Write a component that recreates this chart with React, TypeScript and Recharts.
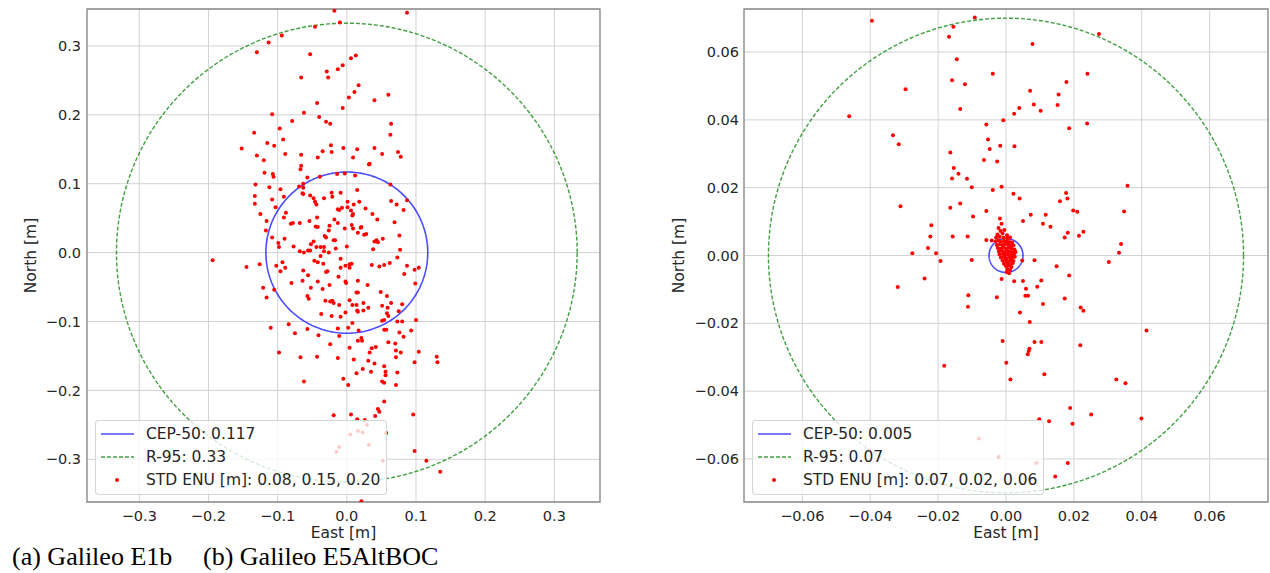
import {
  ScatterChart,
  Scatter,
  XAxis,
  YAxis,
  CartesianGrid,
  ReferenceArea,
  Legend,
} from 'recharts';

type Pt = [number, number];

// --- (a) Galileo E1b ---
const e1bTicks = [-0.3, -0.2, -0.1, 0, 0.1, 0.2, 0.3];
const e1bXDomain: Pt = [-0.3756, 0.366];
const e1bYDomain: Pt = [-0.362, 0.3536];
const e1bCep = 0.117;
const e1bR95 = 0.333;
const e1bLegend = ['CEP-50: 0.117', 'R-95: 0.33', 'STD ENU [m]: 0.08, 0.15, 0.20'];

const e1bUpper: Pt[] = [
  [-0.018, 0.351], [0.087, 0.348], [-0.010, 0.334], [-0.046, 0.328], [-0.094, 0.315], [-0.113, 0.305],
  [-0.130, 0.291], [-0.053, 0.288], [0.013, 0.286], [0.006, 0.282], [-0.006, 0.272], [-0.013, 0.266],
  [-0.029, 0.263], [-0.066, 0.254], [-0.027, 0.254], [0.017, 0.243], [0.011, 0.233], [0.060, 0.229],
  [0.003, 0.225], [0.040, 0.221], [-0.043, 0.217], [-0.006, 0.210], [-0.108, 0.201], [-0.062, 0.203],
  [-0.040, 0.197], [-0.079, 0.191], [-0.030, 0.190], [-0.024, 0.187], [0.064, 0.187], [-0.097, 0.180],
  [-0.134, 0.174], [0.063, 0.171], [-0.092, 0.164], [-0.115, 0.159], [-0.105, 0.155], [-0.023, 0.156],
  [-0.152, 0.151], [-0.005, 0.152], [0.015, 0.150], [0.040, 0.152], [-0.035, 0.147], [-0.022, 0.146],
  [0.074, 0.146], [-0.130, 0.141], [-0.089, 0.143], [-0.066, 0.142], [0.051, 0.143], [-0.042, 0.138],
  [0.009, 0.138], [0.078, 0.139], [-0.120, 0.134], [0.033, 0.129], [0.032, 0.128], [-0.066, 0.126],
  [-0.067, 0.121], [-0.119, 0.116], [-0.107, 0.114], [-0.106, 0.110], [-0.039, 0.110], [-0.057, 0.109],
  [-0.014, 0.114], [-0.003, 0.115], [0.012, 0.112], [-0.132, 0.099], [-0.112, 0.095], [-0.069, 0.096],
  [-0.063, 0.100], [0.063, 0.099], [-0.096, 0.092], [-0.063, 0.094], [0.015, 0.091], [-0.133, 0.082],
  [-0.091, 0.081], [-0.064, 0.086], [-0.063, 0.085], [-0.053, 0.083], [-0.022, 0.087], [-0.009, 0.087],
  [-0.108, 0.077], [-0.048, 0.079], [-0.021, 0.081], [-0.033, 0.079], [-0.046, 0.074], [0.001, 0.074],
  [0.018, 0.074], [0.064, 0.075], [-0.133, 0.071], [-0.044, 0.070], [0.010, 0.070], [0.072, 0.070],
  [0.087, 0.076], [-0.103, 0.066], [-0.007, 0.065], [-0.013, 0.063], [-0.011, 0.062], [0.001, 0.066],
  [0.006, 0.061], [0.027, 0.064], [0.082, 0.062], [-0.125, 0.056], [-0.088, 0.058], [0.009, 0.056],
  [0.008, 0.054], [0.037, 0.056], [-0.091, 0.051], [-0.043, 0.051], [-0.018, 0.048], [0.044, 0.048],
  [-0.116, 0.046], [-0.078, 0.043], [-0.081, 0.042], [-0.068, 0.043], [-0.054, 0.046], [-0.013, 0.043],
  [0.007, 0.040], [0.021, 0.037], [0.020, 0.036], [0.069, 0.044], [-0.045, 0.038], [-0.042, 0.037],
  [-0.025, 0.039], [-0.003, 0.035], [0.009, 0.035], [-0.026, 0.032], [-0.117, 0.032], [0.016, 0.029],
  [-0.108, 0.022], [-0.090, 0.020], [-0.032, 0.024], [-0.030, 0.022], [0.025, 0.026], [0.028, 0.027],
  [0.076, 0.025], [0.043, 0.018], [0.040, 0.016], [0.052, 0.020], [0.045, 0.015], [-0.019, 0.018],
  [-0.017, 0.018], [-0.099, 0.014], [-0.048, 0.016], [-0.052, 0.012], [-0.077, 0.009], [-0.098, 0.008],
  [-0.044, 0.008], [-0.038, 0.008], [-0.033, 0.008], [-0.016, 0.006], [0.000, 0.009], [0.038, 0.005],
  [0.077, 0.004], [-0.056, 0.003], [-0.053, 0.003], [-0.068, 0.002], [-0.062, 0.000], [-0.033, 0.002],
  [-0.026, 0.000],
];

const e1bLower: Pt[] = [
  [-0.145, -0.021], [-0.126, -0.017], [-0.102, -0.019], [-0.093, -0.014], [-0.096, -0.027], [-0.089, -0.022],
  [-0.063, -0.026], [-0.047, -0.012], [-0.042, -0.014], [-0.034, -0.016], [-0.038, -0.005], [-0.028, -0.027],
  [-0.009, -0.009], [-0.009, -0.022], [-0.002, -0.019], [0.004, -0.017], [0.007, -0.016], [0.004, -0.022],
  [0.036, -0.018], [0.047, -0.020], [0.054, -0.018], [0.062, -0.015], [0.073, -0.007], [0.087, -0.019],
  [0.098, -0.025], [0.104, -0.022], [-0.121, -0.051], [-0.116, -0.065], [-0.105, -0.054], [-0.080, -0.044],
  [-0.064, -0.041], [-0.056, -0.033], [-0.042, -0.042], [-0.030, -0.028], [-0.025, -0.047], [-0.012, -0.035],
  [-0.002, -0.042], [-0.001, -0.044], [0.016, -0.041], [0.030, -0.047], [0.083, -0.031], [0.099, -0.045],
  [-0.057, -0.063], [-0.055, -0.067], [-0.052, -0.051], [-0.035, -0.053], [-0.031, -0.070], [-0.024, -0.071],
  [-0.021, -0.070], [-0.019, -0.073], [-0.011, -0.076], [0.004, -0.069], [0.008, -0.076], [0.014, -0.076],
  [0.015, -0.084], [0.024, -0.073], [0.024, -0.084], [0.031, -0.080], [0.014, -0.058], [0.016, -0.058],
  [0.049, -0.057], [0.058, -0.063], [0.051, -0.077], [0.059, -0.080], [0.064, -0.073], [0.080, -0.075],
  [0.075, -0.085], [-0.037, -0.089], [-0.022, -0.092], [-0.009, -0.093], [-0.002, -0.087], [0.008, -0.102],
  [0.016, -0.086], [0.051, -0.099], [0.054, -0.098], [0.058, -0.088], [0.060, -0.092], [0.073, -0.100],
  [0.080, -0.100], [0.100, -0.098], [-0.110, -0.109], [-0.084, -0.104], [-0.075, -0.117], [-0.057, -0.111],
  [-0.041, -0.120], [-0.013, -0.110], [-0.011, -0.121], [0.002, -0.109], [0.017, -0.113], [0.021, -0.124],
  [0.016, -0.128], [0.022, -0.128], [0.054, -0.112], [0.057, -0.112], [0.076, -0.116], [0.082, -0.122],
  [0.093, -0.113], [-0.098, -0.145], [-0.067, -0.152], [-0.043, -0.151], [-0.024, -0.133], [-0.013, -0.153],
  [0.004, -0.138], [0.010, -0.155], [0.031, -0.157], [0.033, -0.145], [0.036, -0.139], [0.042, -0.137],
  [0.060, -0.130], [0.070, -0.132], [0.071, -0.142], [0.078, -0.145], [0.071, -0.152], [0.098, -0.159],
  [0.104, -0.144], [0.130, -0.151], [0.131, -0.159], [-0.062, -0.187], [-0.005, -0.183], [0.002, -0.192],
  [0.014, -0.175], [0.023, -0.169], [0.035, -0.173], [0.040, -0.161], [0.054, -0.165], [0.056, -0.173],
  [0.056, -0.178], [0.051, -0.187], [0.054, -0.189], [0.071, -0.192], [0.073, -0.174], [0.054, -0.216],
  [0.045, -0.227], [0.047, -0.231], [0.041, -0.237], [-0.019, -0.236], [0.006, -0.235], [0.096, -0.235],
  [0.015, -0.242], [0.026, -0.243], [0.029, -0.250], [0.016, -0.259], [0.005, -0.264], [0.023, -0.261],
  [0.057, -0.262], [-0.011, -0.282], [-0.015, -0.289], [0.032, -0.279], [0.052, -0.302], [0.098, -0.288],
  [0.115, -0.302], [0.135, -0.318], [0.021, -0.361], [-0.194, -0.011],
];

// --- (b) Galileo E5AltBOC ---
const e5Ticks = [-0.06, -0.04, -0.02, 0, 0.02, 0.04, 0.06];
const e5XDomain: Pt = [-0.0772, 0.0772];
const e5YDomain: Pt = [-0.0727, 0.0727];
const e5Cep = 0.005;
const e5R95 = 0.07;
const e5Legend = ['CEP-50: 0.005', 'R-95: 0.07', 'STD ENU [m]: 0.07, 0.02, 0.06'];

const e5Spread: Pt[] = [
  [-0.0092, 0.0702], [-0.0155, 0.0675], [-0.0168, 0.0645], [0.0078, 0.0624], [0.0274, 0.0653], [-0.0145, 0.0579],
  [-0.0296, 0.0490], [-0.0159, 0.0517], [-0.0121, 0.0505], [-0.0039, 0.0536], [0.0178, 0.0512], [0.0240, 0.0536],
  [0.0071, 0.0486], [0.0155, 0.0475], [-0.0135, 0.0432], [0.0039, 0.0435], [0.0082, 0.0445], [0.0024, 0.0418],
  [0.0102, 0.0427], [0.0152, 0.0444], [-0.0008, 0.0399], [-0.0058, 0.0386], [0.0186, 0.0375], [0.0239, 0.0389],
  [-0.0053, 0.0342], [-0.0048, 0.0314], [-0.0017, 0.0324], [0.0025, 0.0322], [-0.0164, 0.0304], [-0.0065, 0.0282],
  [-0.0026, 0.0277], [-0.0154, 0.0258], [-0.0159, 0.0227], [-0.0140, 0.0241], [-0.0115, 0.0226], [-0.0101, 0.0201],
  [-0.0039, 0.0193], [-0.0013, 0.0203], [0.0358, 0.0206], [0.0022, 0.0182], [0.0040, 0.0168], [0.0177, 0.0184],
  [0.0181, 0.0168], [0.0159, 0.0160], [-0.0311, 0.0145], [-0.0164, 0.0141], [-0.0135, 0.0153], [-0.0058, 0.0131],
  [0.0198, 0.0133], [0.0210, 0.0129], [0.0348, 0.0130], [-0.0097, 0.0115], [0.0073, 0.0120], [0.0117, 0.0120],
  [0.0050, 0.0102], [0.0109, 0.0094], [0.0131, 0.0085], [-0.0220, 0.0089], [-0.0223, 0.0056], [-0.0157, 0.0056],
  [-0.0113, 0.0056], [0.0182, 0.0067], [0.0173, 0.0053], [0.0215, 0.0058], [0.0228, 0.0070], [0.0339, 0.0034],
  [0.0333, 0.0008], [-0.0230, 0.0022], [-0.0276, 0.0007], [-0.0206, 0.0007], [-0.0058, 0.0046], [-0.0042, 0.0044],
  [-0.0395, 0.0692], [-0.0462, 0.0411], [-0.0333, 0.0355], [-0.0316, 0.0328],
  [-0.0240, -0.0068], [-0.0193, -0.0016], [-0.0101, -0.0013], [0.0084, -0.0014], [0.0048, -0.0015], [0.0149, -0.0032],
  [0.0186, -0.0059], [0.0303, -0.0019], [-0.0013, -0.0069], [0.0024, -0.0076], [0.0050, -0.0075], [0.0104, -0.0074],
  [0.0059, -0.0098], [0.0092, -0.0092], [0.0057, -0.0119], [0.0065, -0.0119], [-0.0027, -0.0123], [-0.0111, -0.0117],
  [-0.0112, -0.0151], [0.0173, -0.0127], [0.0109, -0.0143], [0.0220, -0.0153], [0.0228, -0.0163], [0.0041, -0.0168],
  [0.0070, -0.0196], [0.0414, -0.0221], [-0.0010, -0.0252], [0.0084, -0.0255], [0.0104, -0.0255], [0.0069, -0.0275],
  [0.0067, -0.0282], [0.0064, -0.0291], [0.0219, -0.0265], [0.0001, -0.0316], [-0.0182, -0.0325], [0.0013, -0.0366],
  [0.0113, -0.0350], [0.0325, -0.0366], [0.0352, -0.0377], [0.0189, -0.0450], [0.0251, -0.0469], [0.0196, -0.0496],
  [0.0127, -0.0489], [0.0098, -0.0483], [0.0399, -0.0481], [-0.0080, -0.0540], [-0.0022, -0.0594], [0.0089, -0.0612],
  [0.0182, -0.0612], [0.0145, -0.0652], [-0.0319, -0.0093],
];

// the tight cluster around the origin
const e5Cluster: Pt[] = [
  [-0.0018, 0.0109], [-0.0013, 0.0094], [-0.0022, 0.0081], [-0.0016, 0.0072], [-0.0005, 0.0075], [-0.0010, 0.0065],
  [-0.0025, 0.0062], [0.0003, 0.0060], [-0.0029, 0.0053], [-0.0019, 0.0055], [-0.0007, 0.0052], [0.0005, 0.0050],
  [0.0012, 0.0053], [-0.0030, 0.0042], [-0.0022, 0.0044], [-0.0015, 0.0040], [-0.0006, 0.0043], [0.0002, 0.0041],
  [0.0010, 0.0040], [0.0018, 0.0038], [-0.0027, 0.0031], [-0.0018, 0.0033], [-0.0010, 0.0030], [-0.0003, 0.0034],
  [0.0006, 0.0032], [0.0014, 0.0029], [0.0022, 0.0030], [-0.0024, 0.0022], [-0.0016, 0.0020], [-0.0008, 0.0024],
  [0.0000, 0.0021], [0.0008, 0.0023], [0.0017, 0.0020], [0.0025, 0.0018], [-0.0021, 0.0012], [-0.0012, 0.0014],
  [-0.0004, 0.0010], [0.0004, 0.0013], [0.0012, 0.0011], [0.0020, 0.0009], [0.0028, 0.0010], [-0.0019, 0.0003],
  [-0.0009, 0.0005], [-0.0001, 0.0002], [0.0007, 0.0004], [0.0015, 0.0001], [0.0023, 0.0003], [-0.0015, -0.0006],
  [-0.0006, -0.0004], [0.0002, -0.0008], [0.0010, -0.0005], [0.0018, -0.0007], [0.0026, -0.0004], [-0.0010, -0.0015],
  [-0.0002, -0.0013], [0.0006, -0.0017], [0.0014, -0.0014], [0.0022, -0.0016], [-0.0006, -0.0024], [0.0003, -0.0022],
  [0.0011, -0.0026], [0.0019, -0.0023], [0.0000, -0.0032], [0.0008, -0.0030], [0.0016, -0.0034], [0.0004, -0.0040],
  [0.0012, -0.0043], [0.0002, -0.0049], [0.0009, -0.0052],
];

const captions = ['(a) Galileo E1b', '(b) Galileo E5AltBOC'];

const FONT = '"DejaVu Sans", sans-serif';
const INK = '#262626';
const BLUE = '#0000ff';
const GREEN = '#008000';

const toRows = (pts: Pt[]) => pts.map(([x, y]) => ({ x, y }));

// closed circle of radius r around the origin, traced as a line
const ring = (r: number) => {
  const out: { x: number; y: number }[] = [];
  for (let i = 0; i <= 240; i++) {
    const a = (i / 240) * Math.PI * 2;
    out.push({ x: r * Math.cos(a), y: r * Math.sin(a) });
  }
  return out;
};

const Dot = (p: { cx?: number; cy?: number }) =>
  p.cx == null || p.cy == null ? <g /> : <circle cx={p.cx} cy={p.cy} r={2} fill="#ff0000" />;

function LegendBox({ labels }: { labels: string[] }) {
  const row = { height: 23.3, display: 'flex', alignItems: 'center' } as const;
  const txt = { fontFamily: FONT, fontSize: 15.5, color: INK, whiteSpace: 'nowrap' as const };
  return (
    <div
      style={{
        boxSizing: 'border-box',
        width: 292,
        height: 75,
        paddingTop: 1,
        border: '1px solid rgba(204,204,204,0.8)',
        borderRadius: 4,
        background: 'rgba(255,255,255,0.8)',
      }}
    >
      <div style={row}>
        <svg width={50} height={20}>
          <line x1={5} x2={38} y1={10} y2={10} stroke={BLUE} strokeOpacity={0.7} strokeWidth={1.6} />
        </svg>
        <span style={txt}>{labels[0]}</span>
      </div>
      <div style={row}>
        <svg width={50} height={20}>
          <line x1={5} x2={38} y1={10} y2={10} stroke={GREEN} strokeOpacity={0.75} strokeWidth={1.4} strokeDasharray="4 2" />
        </svg>
        <span style={txt}>{labels[1]}</span>
      </div>
      <div style={row}>
        <svg width={50} height={20}>
          <circle cx={21} cy={10} r={2} fill="#ff0000" />
        </svg>
        <span style={txt}>{labels[2]}</span>
      </div>
    </div>
  );
}

interface PanelProps {
  left: number;
  margin: { top: number; right: number; bottom: number; left: number };
  xDomain: Pt;
  yDomain: Pt;
  ticks: number[];
  digits: number;
  yTickGap: number;
  points: Pt[][];
  cep: number;
  r95: number;
  legend: string[];
}

function Panel({ left, margin, xDomain, yDomain, ticks, digits, yTickGap, points, cep, r95, legend }: PanelProps) {
  const fmt = (v: number) => v.toFixed(digits).replace('-', '\u2212');
  const tick = { fontSize: 14.5, fill: INK, fontFamily: FONT };
  const allPts = toRows(points.flat());
  return (
    <div style={{ position: 'absolute', left, top: 0 }}>
      <ScatterChart width={620} height={573} margin={margin}>
        <CartesianGrid stroke="#d2d2d2" strokeWidth={1} />
        <XAxis
          type="number"
          dataKey="x"
          domain={xDomain}
          allowDataOverflow
          ticks={ticks}
          interval={0}
          tickFormatter={fmt}
          tick={tick}
          tickLine={false}
          axisLine={false}
          tickSize={0}
          tickMargin={9}
          height={40}
        />
        <YAxis
          type="number"
          dataKey="y"
          domain={yDomain}
          allowDataOverflow
          ticks={ticks}
          interval={0}
          tickFormatter={fmt}
          tick={tick}
          tickLine={false}
          axisLine={false}
          tickSize={0}
          tickMargin={yTickGap}
          width={60}
        />
        <ReferenceArea
          x1={xDomain[0]}
          x2={xDomain[1]}
          y1={yDomain[0]}
          y2={yDomain[1]}
          fill="none"
          stroke="#8c8c8c"
          strokeWidth={1.3}
          ifOverflow="visible"
        />
        <Scatter
          data={ring(cep)}
          fill="none"
          line={{ stroke: BLUE, strokeOpacity: 0.7, strokeWidth: 1.6 }}
          shape={() => <g />}
          legendType="none"
          isAnimationActive={false}
        />
        <Scatter
          data={ring(r95)}
          fill="none"
          line={{ stroke: GREEN, strokeOpacity: 0.75, strokeWidth: 1.4, strokeDasharray: '4 2' }}
          shape={() => <g />}
          legendType="none"
          isAnimationActive={false}
        />
        <Scatter data={allPts} fill="#ff0000" shape={Dot} isAnimationActive={false} />
        <Legend
          layout="vertical"
          align="center"
          verticalAlign="middle"
          wrapperStyle={{ left: margin.left + 60 + 8, top: 420, width: 292, height: 75 }}
          content={() => <LegendBox labels={legend} />}
        />
      </ScatterChart>
    </div>
  );
}

export default function App() {
  return (
    <div style={{ position: 'absolute', left: 0, top: 0, width: 1270, height: 573, background: '#fff' }}>
      <Panel
        left={0}
        margin={{ top: 9, right: 20, bottom: 31, left: 27 }}
        xDomain={e1bXDomain}
        yDomain={e1bYDomain}
        ticks={e1bTicks}
        digits={1}
        yTickGap={6}
        points={[e1bUpper, e1bLower]}
        cep={e1bCep}
        r95={e1bR95}
        legend={e1bLegend}
      />
      <Panel
        left={650}
        margin={{ top: 9, right: 2, bottom: 31, left: 34 }}
        xDomain={e5XDomain}
        yDomain={e5YDomain}
        ticks={e5Ticks}
        digits={2}
        yTickGap={5}
        points={[e5Spread, e5Cluster]}
        cep={e5Cep}
        r95={e5R95}
        legend={e5Legend}
      />
      <svg
        width={1270}
        height={573}
        style={{ position: 'absolute', left: 0, top: 0, pointerEvents: 'none' }}
      >
        <g fontFamily={FONT} fontSize={15.5} fill={INK} textAnchor="middle">
          <text x={343.5} y={537.5}>East [m]</text>
          <text x={1006} y={537.5}>East [m]</text>
          <text x={31} y={255.5} transform="rotate(-90 31 255.5)" dominantBaseline="central">North [m]</text>
          <text x={679} y={255.5} transform="rotate(-90 679 255.5)" dominantBaseline="central">North [m]</text>
        </g>
        <g fontFamily='"Liberation Serif", "Times New Roman", serif' fontSize={26} fill="#000">
          <text x={12} y={565}>{captions[0]}</text>
          <text x={203} y={565}>{captions[1]}</text>
        </g>
      </svg>
    </div>
  );
}
